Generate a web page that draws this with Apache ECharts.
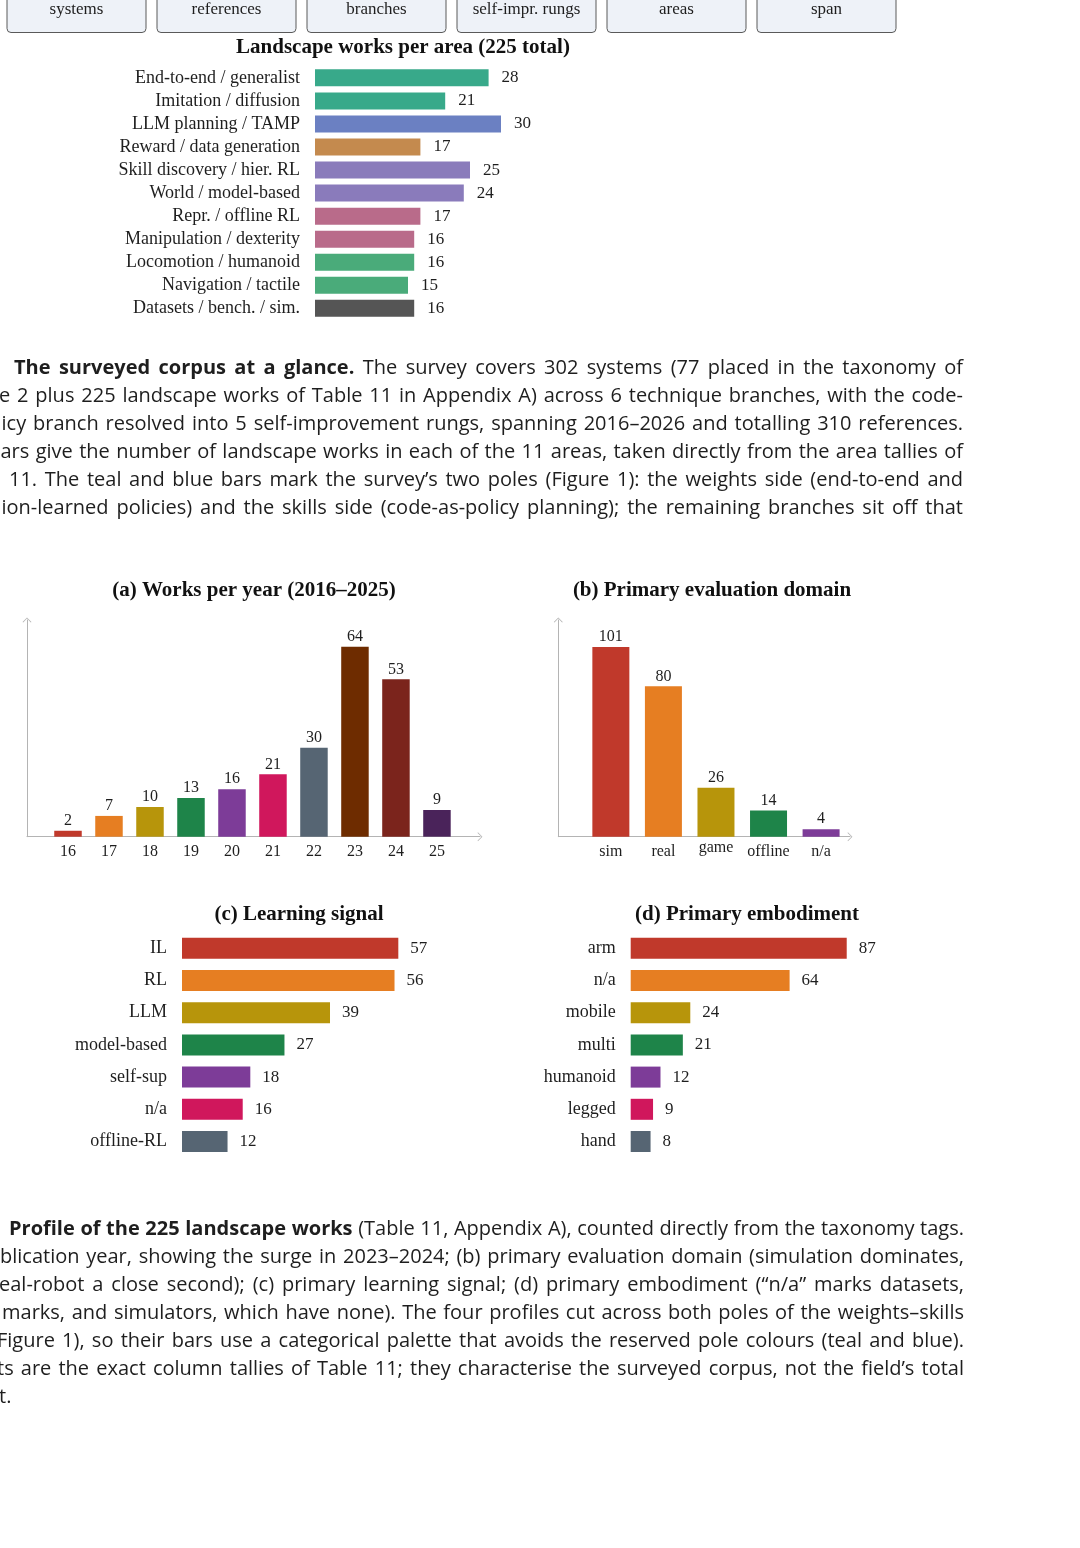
<!DOCTYPE html>
<html><head><meta charset="utf-8">
<script src="https://cdn.jsdelivr.net/npm/echarts@6/dist/echarts.min.js"></script>
<style>html,body{margin:0;padding:0;background:#fff}#c{width:1080px;height:1548px}</style>
</head><body><div id="c"></div>
<script>
// ---------- data ----------
const statBoxLabels = ['systems','references','branches','self-impr. rungs','areas','span'];

const areaNames = ['End-to-end / generalist','Imitation / diffusion','LLM planning / TAMP','Reward / data generation','Skill discovery / hier. RL','World / model-based','Repr. / offline RL','Manipulation / dexterity','Locomotion / humanoid','Navigation / tactile','Datasets / bench. / sim.'];
const areaCounts = [28,21,30,17,25,24,17,16,16,15,16];
const areaColors = ['#38a98a','#38a98a','#6b80c2','#c48a4e','#8a7bbb','#8a7bbb','#b96b8a','#b96b8a','#4aab7a','#4aab7a','#555555'];

const yearTicks = [16,17,18,19,20,21,22,23,24,25];
const yearCounts = [2,7,10,13,16,21,30,64,53,9];
const yearColors = ['#c0392b','#e67e22','#b7950b','#1e8449','#7d3c98','#d0175c','#566573','#6e2c00','#7b241c','#4a235a'];

const domains = ['sim','real','game','offline','n/a'];
const domainCounts = [101,80,26,14,4];

const signals = ['IL','RL','LLM','model-based','self-sup','n/a','offline-RL'];
const signalCounts = [57,56,39,27,18,16,12];

const embodiments = ['arm','n/a','mobile','multi','humanoid','legged','hand'];
const embodimentCounts = [87,64,24,21,12,9,8];

const catPalette = ['#c0392b','#e67e22','#b7950b','#1e8449','#7d3c98','#d0175c','#566573'];

const caption1 = [
  {x:14, segs:[['The surveyed corpus at a glance.',1],[' The survey covers 302 systems (77 placed in the taxonomy of',0]]},
  {x:-1, segs:[['e 2 plus 225 landscape works of Table 11 in Appendix A) across 6 technique branches, with the code-',0]]},
  {x:1.5, segs:[['icy branch resolved into 5 self-improvement rungs, spanning 2016–2026 and totalling 310 references.',0]]},
  {x:0.5, segs:[['ars give the number of landscape works in each of the 11 areas, taken directly from the area tallies of',0]]},
  {x:9, segs:[['11. The teal and blue bars mark the survey’s two poles (Figure 1): the weights side (end-to-end and',0]]},
  {x:1.5, segs:[['ion-learned policies) and the skills side (code-as-policy planning); the remaining branches sit off that',0]]}
];
const caption2 = [
  {x:9, segs:[['Profile of the 225 landscape works',1],[' (Table 11, Appendix A), counted directly from the taxonomy tags.',0]]},
  {x:0, segs:[['blication year, showing the surge in 2023–2024; (b) primary evaluation domain (simulation dominates,',0]]},
  {x:-1, segs:[['eal-robot a close second); (c) primary learning signal; (d) primary embodiment (“n/a” marks datasets,',0]]},
  {x:2, segs:[['marks, and simulators, which have none). The four profiles cut across both poles of the weights–skills',0]]},
  {x:-3, segs:[['Figure 1), so their bars use a categorical palette that avoids the reserved pole colours (teal and blue).',0]]},
  {x:-3, segs:[['ts are the exact column tallies of Table 11; they characterise the surveyed corpus, not the field’s total',0]]},
  {x:-1, last:true, segs:[['t.',0]]}
];

// ---------- styling ----------
const SERIF = "'Liberation Serif'";
const SANS = "'Open Sans'";
const TXT = '#1e1e1e';
const AXC = '#b4b4b4';
const chevron = 'path://M0,10L10,0L20,10L18.4,10.8L10,2.2L1.6,10.8Z';

const ctx = document.createElement('canvas').getContext('2d');
function buildLines(lines, y0, dy, right, size) {
  const els = [];
  lines.forEach((ln, li) => {
    const words = [];
    ln.segs.forEach(([t, b]) => t.split(' ').filter(w => w.length).forEach(w => words.push({w, b})));
    const fonts = words.map(o => (o.b ? 'bold ' : 'normal ') + size + 'px ' + SANS);
    const widths = words.map((o, i) => { ctx.font = fonts[i]; return ctx.measureText(o.w).width; });
    const total = widths.reduce((a, b) => a + b, 0);
    ctx.font = 'normal ' + size + 'px ' + SANS;
    const sp = ctx.measureText(' ').width;
    const gap = (ln.last || words.length < 2) ? sp : (right - ln.x - total) / (words.length - 1);
    let cx = ln.x;
    words.forEach((o, i) => {
      els.push({type: 'text', x: cx, y: y0 + li * dy, silent: true,
        style: {text: o.w, font: fonts[i], fill: TXT, align: 'left', verticalAlign: 'middle'}});
      cx += widths[i] + gap;
    });
  });
  return els;
}

function title(text, x, y) {
  return {type: 'text', x: x, y: y, silent: true,
    style: {text: text, font: 'bold 21px ' + SERIF, fill: '#111', align: 'center', verticalAlign: 'middle'}};
}

const graphics = [];
statBoxLabels.forEach((t, i) => {
  const bx = 7 + i * 150;
  graphics.push({type: 'rect', silent: true, shape: {x: bx, y: -12, width: 139, height: 44.5, r: 4},
    style: {fill: '#eef2f8', stroke: '#5a5a5a', lineWidth: 1}});
  graphics.push({type: 'text', x: bx + 69.5, y: 10, silent: true,
    style: {text: t, font: 'normal 17px ' + SERIF, fill: TXT, align: 'center', verticalAlign: 'middle'}});
});
graphics.push(title('Landscape works per area (225 total)', 403, 48));
graphics.push(title('(a) Works per year (2016–2025)', 254, 591));
graphics.push(title('(b) Primary evaluation domain', 712, 591));
graphics.push(title('(c) Learning signal', 299, 915));
graphics.push(title('(d) Primary embodiment', 747, 915));
buildLines(caption1, 368, 28, 963, 20).forEach(e => graphics.push(e));
buildLines(caption2, 1229, 28.1, 964, 20).forEach(e => graphics.push(e));

function catY(gi, names, fontSize) {
  return {type: 'category', gridIndex: gi, data: names, inverse: true,
    axisLine: {show: false}, axisTick: {show: false}, splitLine: {show: false},
    axisLabel: {interval: 0, margin: 15, fontFamily: SERIF, fontSize: fontSize, color: TXT}};
}
function hBar(gi, values, colors, barW, dist) {
  return {type: 'bar', xAxisIndex: gi, yAxisIndex: gi, barWidth: barW, silent: true,
    data: values.map((v, i) => ({value: v, itemStyle: {color: colors[i]}})),
    label: {show: true, position: 'right', distance: dist, fontFamily: SERIF, fontSize: 17, color: TXT}};
}
const arrowLine = {show: true, onZero: false, symbol: ['none', chevron], symbolSize: [9, 6],
  lineStyle: {color: AXC, width: 1}};

const option = {
  animation: false,
  backgroundColor: '#ffffff',
  grid: [
    {left: 315, top: 66.3, width: 248, height: 253.6, outerBoundsMode: 'none'},
    {left: 27, top: 620, width: 453, height: 216.7, outerBoundsMode: 'none'},
    {left: 558.3, top: 620, width: 291.7, height: 216.7, outerBoundsMode: 'none'},
    {left: 182, top: 932.2, width: 227.7, height: 225.4, outerBoundsMode: 'none'},
    {left: 630.7, top: 932.2, width: 248.3, height: 225.4, outerBoundsMode: 'none'}
  ],
  xAxis: [
    {type: 'value', gridIndex: 0, min: 0, max: 40, show: false},
    {type: 'value', gridIndex: 1, min: 15, max: 26.05, interval: 1,
      axisLine: arrowLine, axisTick: {show: false}, splitLine: {show: false},
      axisLabel: {margin: 7, fontFamily: SERIF, fontSize: 16, color: TXT,
        formatter: v => yearTicks.indexOf(Math.round(v * 100) / 100) >= 0 ? String(v) : ''}},
    {type: 'value', gridIndex: 2, min: -1, max: 4.55, interval: 1,
      axisLine: arrowLine, axisTick: {show: false}, splitLine: {show: false},
      axisLabel: {margin: 7, fontFamily: SERIF, fontSize: 16, color: TXT,
        formatter: v => (Number.isInteger(v) && v >= 0 && v < domains.length) ? (v === 2 ? '{g|' + domains[v] + '}' : domains[v]) : '',
        rich: {g: {fontFamily: SERIF, fontSize: 16, color: TXT, lineHeight: 9}}}},
    {type: 'value', gridIndex: 3, min: 0, max: 60, show: false},
    {type: 'value', gridIndex: 4, min: 0, max: 100, show: false}
  ],
  yAxis: [
    catY(0, areaNames, 18),
    {type: 'value', gridIndex: 1, min: 0, max: 73, axisLine: arrowLine, axisTick: {show: false},
      splitLine: {show: false}, axisLabel: {show: false}},
    {type: 'value', gridIndex: 2, min: 0, max: 115.3, axisLine: arrowLine, axisTick: {show: false},
      splitLine: {show: false}, axisLabel: {show: false}},
    catY(3, signals, 18),
    catY(4, embodiments, 18)
  ],
  series: [
    hBar(0, areaCounts, areaColors, 17, 13),
    {type: 'bar', xAxisIndex: 1, yAxisIndex: 1, barWidth: 27.5, silent: true,
      data: yearTicks.map((y, i) => ({value: [y, yearCounts[i]], itemStyle: {color: yearColors[i]}})),
      label: {show: true, position: 'top', distance: 2, fontFamily: SERIF, fontSize: 16, color: TXT,
        formatter: p => String(p.value[1])}},
    {type: 'bar', xAxisIndex: 2, yAxisIndex: 2, barWidth: 37, silent: true,
      data: domains.map((d, i) => ({value: [i, domainCounts[i]], itemStyle: {color: catPalette[i]}})),
      label: {show: true, position: 'top', distance: 2, fontFamily: SERIF, fontSize: 16, color: TXT,
        formatter: p => String(p.value[1])}},
    hBar(3, signalCounts, catPalette, 21, 12),
    hBar(4, embodimentCounts, catPalette, 21, 12)
  ],
  graphic: {elements: graphics}
};

const chart = echarts.init(document.getElementById('c'), null, {renderer: 'canvas'});
chart.setOption(option);
</script>
</body></html>
